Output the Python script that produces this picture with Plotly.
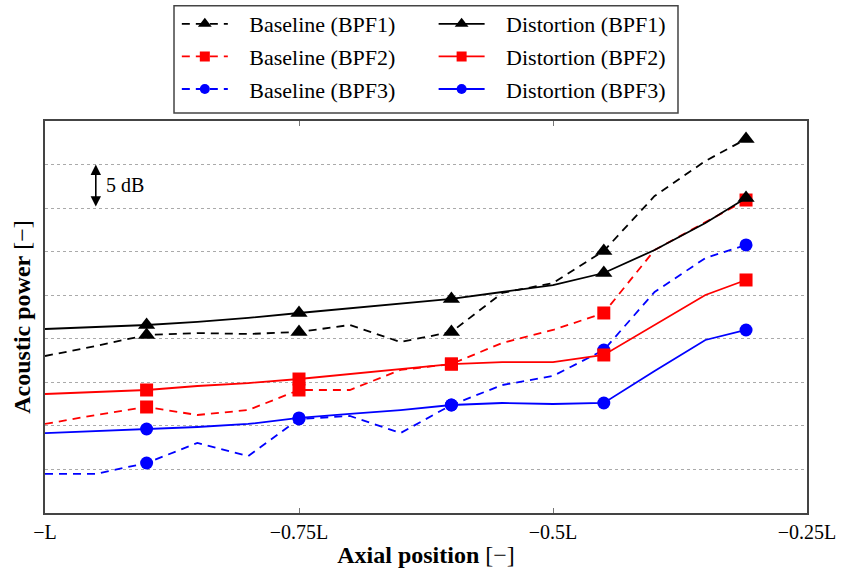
import plotly.graph_objects as go

# ---------------- data ----------------
x_pos = [-1.0, -0.95, -0.9, -0.85, -0.8, -0.75, -0.7, -0.65, -0.6, -0.55, -0.5, -0.45, -0.4, -0.35, -0.31]
marker_idx = [2, 5, 8, 11, 14]

baseline_bpf1 = [18.02, 19.17, 20.43, 20.66, 20.55, 20.78, 21.58, 19.63, 20.78, 25.26, 26.40, 30.08, 36.39, 40.41, 42.93]
distortion_bpf1 = [21.12, 21.35, 21.58, 21.93, 22.39, 22.96, 23.48, 23.99, 24.57, 25.37, 26.17, 27.55, 30.19, 33.29, 36.16]
baseline_bpf2 = [10.22, 11.25, 12.17, 11.25, 11.82, 14.12, 14.12, 16.42, 17.10, 19.52, 21.01, 22.96, 30.19, 33.41, 35.93]
distortion_bpf2 = [13.66, 13.89, 14.12, 14.58, 14.92, 15.38, 15.96, 16.53, 17.10, 17.33, 17.33, 18.14, 21.58, 25.03, 26.75]
baseline_bpf3 = [4.48, 4.48, 5.74, 8.04, 6.54, 10.79, 11.14, 9.18, 12.40, 14.69, 15.73, 18.71, 25.37, 29.27, 30.77]
distortion_bpf3 = [9.18, 9.41, 9.64, 9.87, 10.22, 10.91, 11.37, 11.82, 12.40, 12.63, 12.51, 12.63, 16.30, 19.86, 21.01]

tick_vals = [-1.0, -0.75, -0.5, -0.25]
tick_text = ["−L", "−0.75L", "−0.5L", "−0.25L"]

series = [
    ("Baseline (BPF1)", baseline_bpf1, "black", "triangle-up", "dash", "legend"),
    ("Baseline (BPF2)", baseline_bpf2, "#ff0000", "square", "dash", "legend"),
    ("Baseline (BPF3)", baseline_bpf3, "#0000ff", "circle", "dash", "legend"),
    ("Distortion (BPF1)", distortion_bpf1, "black", "triangle-up", "solid", "legend2"),
    ("Distortion (BPF2)", distortion_bpf2, "#ff0000", "square", "solid", "legend2"),
    ("Distortion (BPF3)", distortion_bpf3, "#0000ff", "circle", "solid", "legend2"),
]

FONT = "Liberation Serif"
DASH = "8px,6px"
msize = {"triangle-up": 15, "square": 13, "circle": 13}
PAD = "\u00a0\u00a0\u00a0"

fig = go.Figure()
for name, ys, col, sym, style, leg in series:
    dash = DASH if style == "dash" else "solid"
    fig.add_trace(go.Scatter(x=x_pos, y=ys, mode="lines",
                             line=dict(color=col, width=1.8, dash=dash),
                             showlegend=False, hoverinfo="skip"))
    fig.add_trace(go.Scatter(x=[x_pos[i] for i in marker_idx], y=[ys[i] for i in marker_idx],
                             mode="markers", marker=dict(color=col, symbol=sym, size=msize[sym]),
                             showlegend=False))
    fig.add_trace(go.Scatter(x=[None], y=[None], mode="lines+markers", name=PAD + name,
                             line=dict(color=col, width=1.8, dash=dash),
                             marker=dict(color=col, symbol=sym, size=msize[sym] - 3),
                             legend=leg, legendgroup=name))

fig.update_xaxes(range=[-1.0, -0.25], tickvals=tick_vals, ticktext=tick_text,
                 ticks="inside", ticklen=5, tickcolor="#777", mirror="ticks",
                 showline=True, linecolor="#444", linewidth=1.5, showgrid=False,
                 zeroline=False, automargin=False,
                 tickfont=dict(family=FONT, size=20, color="black"),
                 title=dict(text="<b>Axial position</b> [−]", font=dict(family=FONT, size=24, color="black"),
                            standoff=4))
fig.update_yaxes(range=[0, 45], dtick=5, showticklabels=False, ticks="",
                 showline=True, mirror=True, linecolor="#444", linewidth=1.5,
                 showgrid=True, gridcolor="#aaa", griddash="dot", gridwidth=1, zeroline=False,
                 automargin=False,
                 title=dict(text="<b>Acoustic power</b> [−]", font=dict(family=FONT, size=24, color="black"),
                            standoff=6))

# 5 dB scale arrow
fig.add_annotation(x=-0.95, y=40, ax=-0.95, ay=35, xref="x", yref="y", axref="x", ayref="y",
                   text="", showarrow=True, arrowhead=2, startarrowhead=2, arrowside="end+start",
                   arrowsize=1.3, arrowwidth=1.6, arrowcolor="black")
fig.add_annotation(x=-0.942, y=37.6, xref="x", yref="y", text="5 dB", showarrow=False,
                   xanchor="left", yanchor="middle", font=dict(family=FONT, size=20, color="black"))

# legend frame
fig.add_shape(type="rect", xref="paper", yref="paper", x0=0.1693, x1=0.8307, y0=1.0204, y1=1.294,
              line=dict(color="#444", width=1.5), fillcolor="white", layer="below")

leg_common = dict(yanchor="top", xanchor="left", bgcolor="rgba(0,0,0,0)", borderwidth=0,
                  font=dict(family=FONT, size=22, color="black"), tracegroupgap=1, itemwidth=46)
fig.update_layout(
    width=841, height=571,
    margin=dict(l=45, r=34, t=121, b=58, autoexpand=False),
    paper_bgcolor="white", plot_bgcolor="white",
    legend=dict(x=0.173, y=1.301, **leg_common),
    legend2=dict(x=0.51, y=1.301, **leg_common),
)

fig.write_html("out.html")
